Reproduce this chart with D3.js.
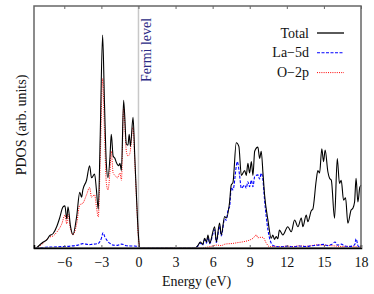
<!DOCTYPE html>
<html>
<head>
<meta charset="utf-8">
<script src="https://cdn.jsdelivr.net/npm/d3@7"></script>
<style>
  body { margin: 0; background: #fff; }
  svg text { font-family: "Liberation Serif", "Times New Roman", Times, "DejaVu Serif", serif !important; }
</style>
</head>
<body>
<svg width="374" height="294"></svg>
<script>
// PDOS curves (energy in eV, arbitrary units)
var totalE = [-8.25,-7.7,-7.4,-7.2,-6.9,-6.6,-6.4,-6.1,-5.95,-5.8,-5.7,-5.5,-5.3,-5.0,-4.75,-4.6,-4.5,-4.2,-3.95,-3.8,-3.55,-3.4,-3.25,-3.1,-2.9,-2.75,-2.6,-2.47,-2.3,-2.2,-2.05,-1.9,-1.8,-1.6,-1.5,-1.38,-1.2,-0.98,-0.85,-0.75,-0.65,-0.44,-0.3,-0.15,0.0,0.1,
  4.6,4.8,5.0,5.2,5.35,5.5,5.62,5.76,6.16,6.3,6.56,6.7,6.97,7.1,7.37,7.5,7.64,7.91,8.12,8.32,8.59,8.72,8.85,8.99,9.13,9.26,9.4,9.66,9.8,9.93,10.07,10.2,10.47,10.74,10.87,11.0,11.14,11.27,11.4,11.68,12.08,12.36,12.63,12.9,13.17,13.3,13.57,13.7,13.98,14.1,14.38,14.51,14.65,14.83,14.97,15.1,15.32,15.46,15.6,15.86,16.08,16.26,16.4,16.59,16.75,16.94,17.2,17.34,17.48,17.6,17.75,17.9,18.0];
var totalV = [0,2.5,3.5,5,6,9,12,17,17.4,12,17,9,5.5,13,23,21,24,28,34,29,30.6,24,16,45,88,60,35,29,38,47,38,37,35.5,34,35,32,61,43,42.5,47,42,54,38,20,5,0,
  0,1,2.5,1.5,4,2.5,5.4,2,8.8,2.6,10.3,5.4,13,12.4,19,26,27,43.5,42,30,32,30,35,31,35.7,30,40,41.7,37,40,31,22,11.6,4,5.4,3.5,4.7,3.8,7.4,5.4,8.8,6.7,11.6,8.8,12.4,8.8,13.6,10.9,15.4,16,28,32,31,41,35.7,40.5,31.5,28.8,28,12.3,37,26.7,28,19.8,20.7,10.2,15.7,16.4,19,28.8,19,25,26];

var la5dE = [-8.3,-7.5,-6.5,-5.5,-4.9,-4.5,-4.0,-3.8,-3.3,-3.0,-2.87,-2.73,-2.47,-2.2,-2.06,-1.7,-1.38,-1.1,-0.98,-0.3,0.05,0.15,
  4.6,4.8,5.0,5.2,5.35,5.5,5.62,5.76,6.16,6.3,6.56,6.7,6.97,7.1,7.24,7.37,7.51,7.64,8.0,8.18,8.32,8.59,8.72,8.85,8.99,9.13,9.26,9.4,9.66,9.8,9.93,10.07,10.2,10.48,10.76,11.0,11.5,12.0,12.5,13.0,13.5,14.0,14.5,15.0,15.3,15.6,15.9,16.1,16.4,16.7,17.0,17.3,17.5,17.6,17.78,18.0];
var la5dV = [0,0.3,0.5,0.8,1.2,1.8,1.4,1.5,1.8,4,6.3,4.7,2.6,1.6,1.2,1.1,1.6,1.2,0.9,0.8,0.3,0,
  0,0.8,2,1.2,3.5,2,4.5,1.8,7.5,2.3,9,5,12,11.5,15.7,17,25,24,35.6,30,24.7,26,24.7,27.4,25.3,28,25.3,29.5,30.2,28.5,30.9,28,19.8,7.3,1.8,0.8,0.5,0.7,0.5,0.8,0.6,0.9,1.2,1.5,1.0,1.4,2.5,1.2,1.6,0.8,0.6,0.8,1.5,3.8,0.7,0.5];

var o2pE = [-8.25,-7.7,-7.2,-6.9,-6.6,-6.2,-5.95,-5.8,-5.7,-5.5,-5.3,-5.0,-4.75,-4.5,-4.2,-3.95,-3.8,-3.55,-3.4,-3.25,-3.1,-2.9,-2.75,-2.6,-2.47,-2.3,-2.2,-2.05,-1.9,-1.7,-1.5,-1.38,-1.2,-0.98,-0.85,-0.7,-0.44,-0.3,-0.15,0.0,0.1,
  5.0,5.5,6.0,6.3,6.7,7.0,7.64,8.0,8.5,9.0,9.26,9.53,9.66,9.8,10.07,10.34,10.6,11.0,11.5,12.0,12.5,13.0,13.5,14.0,14.5,15.0,15.5,16.0,16.5,17.0,17.5,18.0];
var o2pV = [0,2,4.5,5,6.6,10,13.6,10,14,8,5.4,10,17.8,18.5,22,25,21,22,17,12.8,35,70,48,27,24,32,40,31,30,29,31,28,58,40,38,39,50,36,19,4,0,
  0,0.3,0.8,1.2,1.0,1.6,1.9,2.2,2.6,3.3,4.0,5.4,4.2,4.4,4.4,2,0.5,0.7,0.5,0.8,0.6,0.9,0.7,1.0,1.3,1.2,1.0,0.8,0.6,0.7,0.5,0.4];

var xTicks = [-6, -3, 0, 3, 6, 9, 12, 15, 18];
var legendNames = ["Total", "La\u22125d", "O\u22122p"];

var serif = "'Liberation Serif', 'Times New Roman', Times, 'DejaVu Serif', serif";

var svg = d3.select("svg").style("font-family", serif),
    margin = {top: 6, right: 13, bottom: 46, left: 34},
    width = +svg.attr("width") - margin.left - margin.right,
    height = +svg.attr("height") - margin.top - margin.bottom,
    g = svg.append("g").attr("transform", "translate(" + margin.left + "," + margin.top + ")");

var x = d3.scaleLinear().domain([-8.45, 18]).range([0, width]);
var y = d3.scaleLinear().domain([0, 100]).range([height, 0]);

function series(es, vs) {
    return es.map(function(e, i) { return {e: e, v: vs[i]}; });
}

var line = d3.line()
    .x(function(d) { return x(d.e); })
    .y(function(d) { return y(d.v); })
    .curve(d3.curveMonotoneX);

// Fermi level
g.append("line")
    .attr("x1", x(0)).attr("x2", x(0))
    .attr("y1", 0).attr("y2", height)
    .attr("stroke", "#c8c8c8")
    .attr("stroke-width", 1.5);

g.append("text")
    .attr("transform", "translate(" + (x(0) + 13) + ",76) rotate(-90)")
    .attr("fill", "#2b2b85")
    .style("font-size", "14px")
    .text("Fermi level");

var curves = g.append("g");

curves.append("path")
    .datum(series(o2pE, o2pV))
    .attr("fill", "none")
    .attr("stroke", "#ff0000")
    .attr("stroke-width", 1)
    .attr("stroke-dasharray", "1,1.2")
    .attr("d", line);

curves.append("path")
    .datum(series(la5dE, la5dV))
    .attr("fill", "none")
    .attr("stroke", "#0000ff")
    .attr("stroke-width", 1.1)
    .attr("stroke-dasharray", "3,1.5")
    .attr("d", line);

curves.append("path")
    .datum(series(totalE, totalV))
    .attr("fill", "none")
    .attr("stroke", "#000")
    .attr("stroke-width", 1.1)
    .attr("d", line);

// frame
g.append("rect")
    .attr("width", width).attr("height", height)
    .attr("fill", "none")
    .attr("stroke", "#666")
    .attr("stroke-width", 1.5);

g.append("g")
    .attr("class", "axis axis--x")
    .attr("transform", "translate(0," + height + ")")
    .call(d3.axisBottom(x).tickValues(xTicks).tickSize(-3).tickPadding(9))
    .call(function(a) {
        a.attr("font-family", serif);
        a.select(".domain").attr("stroke", "#000").attr("stroke-width", 1.5);
        a.selectAll(".tick line").attr("stroke", "#666");
        a.selectAll("text").style("font-size", "14px").attr("fill", "#111");
    });

g.append("g")
    .attr("class", "axis axis--top")
    .call(d3.axisTop(x).tickValues(xTicks).tickSize(-3).tickFormat(""))
    .call(function(a) {
        a.select(".domain").remove();
        a.selectAll(".tick line").attr("stroke", "#666");
    });

// axis titles
svg.append("text")
    .attr("x", margin.left + x(4.7))
    .attr("y", 286)
    .attr("text-anchor", "middle")
    .style("font-size", "14px")
    .attr("fill", "#111")
    .text("Energy (eV)");

svg.append("text")
    .attr("transform", "translate(26,125) rotate(-90)")
    .attr("text-anchor", "middle")
    .style("font-size", "14px")
    .attr("fill", "#111")
    .text("PDOS (arb. units)");

// legend
var legendStyle = [
    {stroke: "#000", dash: null, w: 1.3},
    {stroke: "#0000ff", dash: "3,1.5", w: 1.1},
    {stroke: "#ff0000", dash: "1,1.2", w: 1}
];
var leg = svg.append("g");
legendNames.forEach(function(name, i) {
    var cy = 33 + i * 19.8;
    leg.append("text")
        .attr("x", 309).attr("y", cy + 4.5)
        .attr("text-anchor", "end")
        .style("font-size", "14px")
        .attr("fill", "#111")
        .text(name);
    leg.append("line")
        .attr("x1", 317).attr("x2", 344)
        .attr("y1", cy).attr("y2", cy)
        .attr("stroke", legendStyle[i].stroke)
        .attr("stroke-width", legendStyle[i].w)
        .attr("stroke-dasharray", legendStyle[i].dash);
});
</script>
</body>
</html>
